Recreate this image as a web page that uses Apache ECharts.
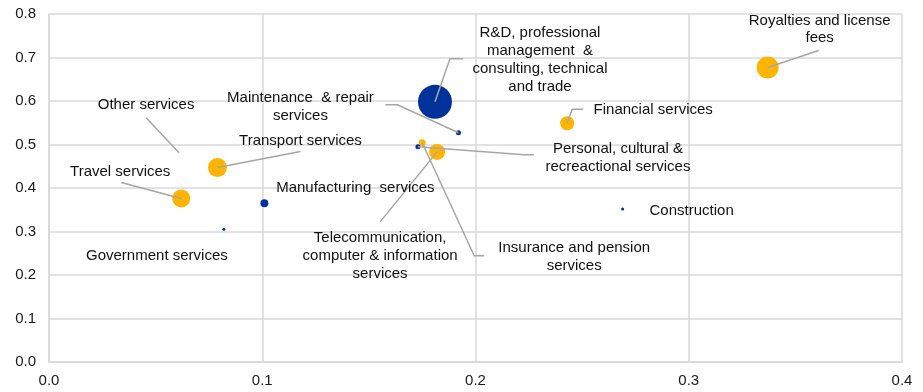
<!DOCTYPE html>
<html>
<head>
<meta charset="utf-8">
<script src="https://cdn.jsdelivr.net/npm/echarts@6/dist/echarts.min.js"></script>
<style>
  html, body { margin: 0; padding: 0; background: #fff; }
  #chart { width: 923px; height: 392px; }
</style>
</head>
<body>
<div id="chart"></div>
<script>
// sectors and their values
const names = [
  'Royalties and license\nfees',
  'R&D, professional\nmanagement  &\nconsulting, technical\nand trade',
  'Maintenance  & repair\nservices',
  'Financial services',
  'Personal, cultural &\nrecreactional services',
  'Insurance and pension\nservices',
  'Telecommunication,\ncomputer & information\nservices',
  'Transport services',
  'Other services',
  'Travel services',
  'Manufacturing  services',
  'Government services',
  'Construction'
]
const xVals = [0.337, 0.181, 0.192, 0.243, 0.173, 0.175, 0.182, 0.079, 0.061, 0.062, 0.101, 0.082, 0.269]
const yVals = [0.677, 0.598, 0.527, 0.549, 0.495, 0.504, 0.483, 0.447, 0.481, 0.376, 0.365, 0.305, 0.352]
const weights = [22, 34, 5, 14, 5, 7, 16, 19, 0, 18, 8, 3, 3]
const groupOf = ['o', 'n', 'n', 'o', 'n', 'o', 'o', 'o', 'n', 'o', 'n', 'n', 'n']

// label placement (pixel offsets from the bubble centre)
const labelOffset = [
  [52, -38], [105, -42], [-158, -26], [86, -13], [200, 11], [152, 114], [-57, 104],
  [83, -27], [-33, -48], [-61, -27], [91, -15], [-67, 27], [69, 2]
]
const leaderPath = [
  [[51, -17]],
  [[15, -43], [28, -43]],
  [[-61, -28], [-73, -28]],
  [[5, -14], [16, -14]],
  [[106, 8], [116, 8]],
  [[52, 113], [62, 113]],
  [[-57, 70]],
  [[83, -16]],
  [[-33, -35]],
  [[-60, -16]],
  [], [], []
]

const ORANGE = '#FFB400'
const NAVY = '#003299'
const FONT = '"Liberation Sans", Arial, sans-serif'

function pts(g) {
  let out = []
  for (let i = 0; i < names.length; i++) {
    if (groupOf[i] === g) out.push([xVals[i], yVals[i], weights[i]])
  }
  return out
}

let labelData = names.map((n, i) => [xVals[i], yVals[i], i])

let chart = echarts.init(document.getElementById('chart'), null, { renderer: 'canvas' })
let option = {
  animation: false,
  grid: { left: 49, right: 21, top: 14, bottom: 30 },
  xAxis: {
    type: 'value', min: 0, max: 0.4, interval: 0.1,
    axisLine: { show: true, lineStyle: { color: '#d9d9d9', width: 1.5 } },
    axisTick: { show: false },
    splitLine: { show: true, lineStyle: { color: '#d9d9d9', width: 1.5 } },
    axisLabel: { color: '#1a1a1a', fontSize: 15, fontFamily: FONT, margin: 11, formatter: v => v.toFixed(1) }
  },
  yAxis: {
    type: 'value', min: 0, max: 0.8, interval: 0.1,
    axisLine: { show: true, lineStyle: { color: '#d9d9d9', width: 1.5 } },
    axisTick: { show: false },
    splitLine: { show: true, lineStyle: { color: '#d9d9d9', width: 1.5 } },
    axisLabel: { color: '#1a1a1a', fontSize: 15, fontFamily: FONT, margin: 13, formatter: v => v.toFixed(1) }
  },
  series: [
    {
      type: 'scatter', data: pts('o'), symbolSize: v => v[2],
      itemStyle: { color: ORANGE, opacity: 1 }, z: 2
    },
    {
      type: 'scatter', data: pts('n'), symbolSize: v => v[2],
      itemStyle: { color: NAVY, opacity: 1 }, z: 2
    },
    {
      type: 'custom', data: labelData, clip: false, z: 5, silent: true,
      renderItem: (params, api) => {
        let i = api.value(2)
        let p = api.coord([api.value(0), api.value(1)])
        let children = []
        if (leaderPath[i].length) {
          let line = [[p[0], p[1]]]
          leaderPath[i].forEach(o => line.push([p[0] + o[0], p[1] + o[1]]))
          children.push({
            type: 'polyline',
            shape: { points: line },
            style: { stroke: '#a6a6a6', lineWidth: 1.5, fill: null }
          })
        }
        children.push({
          type: 'text',
          style: {
            text: names[i],
            x: p[0] + labelOffset[i][0],
            y: p[1] + labelOffset[i][1],
            align: 'center', verticalAlign: 'middle',
            fill: '#111', fontSize: 15, fontFamily: FONT, lineHeight: 17.7
          }
        })
        return { type: 'group', children: children }
      }
    }
  ]
}
chart.setOption(option)
</script>
</body>
</html>
